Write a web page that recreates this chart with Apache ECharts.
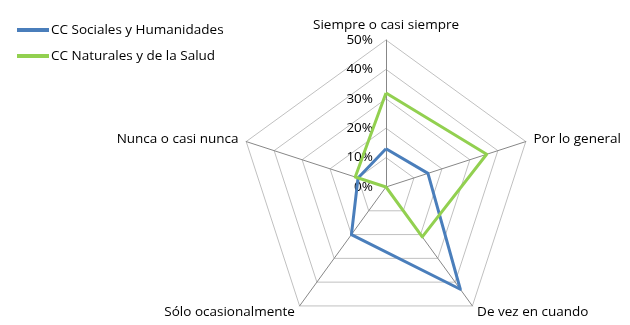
<!DOCTYPE html>
<html>
<head>
<meta charset="utf-8">
<script src="https://cdn.jsdelivr.net/npm/echarts@6/dist/echarts.min.js"></script>
<style>
  html, body { margin: 0; padding: 0; background: #fff; }
  #chart { width: 630px; height: 325px; }
</style>
</head>
<body>
<div id="chart"></div>
<script>
// categorias (ejes del radar), en el sentido de las agujas del reloj desde arriba
var categories = ['Siempre o casi siempre', 'Por lo general', 'De vez en cuando', 'Sólo ocasionalmente', 'Nunca o casi nunca'];
var seriesNames = ['CC Sociales y Humanidades', 'CC Naturales y de la Salud'];
// valores en %
var sociales = [13, 15, 43, 20, 10];
var naturales = [32, 36, 21, 0, 11];
var axisMax = 50;

// el radar de echarts gira en sentido antihorario: invertimos el orden
var order = [0, 4, 3, 2, 1];
function reorder(arr) { return order.map(function (i) { return arr[i]; }); }

var FONT = 'Open Sans';
var chart = echarts.init(document.getElementById('chart'), null, { renderer: 'canvas' });

var indicator = order.map(function (i, k) {
  return { name: categories[i], min: 0, max: axisMax, axisLabel: { show: k === 0 } };
});

var option = {
  animation: false,
  textStyle: { fontFamily: FONT },
  legend: {
    orient: 'vertical',
    left: 12,
    top: 18,
    itemGap: 12,
    itemWidth: 32,
    itemHeight: 4,
    icon: 'rect',
    textStyle: { fontSize: 13.5, color: '#000', fontFamily: FONT, padding: [0, 0, 0, -3] },
    data: seriesNames
  },
  radar: {
    center: [386, 187],
    radius: 147,
    startAngle: 90,
    splitNumber: 5,
    shape: 'polygon',
    nameGap: 8,
    axisName: { color: '#000', fontSize: 13.5, fontFamily: FONT },
    axisLine: { lineStyle: { color: '#878787', width: 1 } },
    splitLine: { lineStyle: { color: '#c0c0c0', width: 1 } },
    splitArea: { show: false },
    axisTick: { show: false },
    axisLabel: {
      color: '#000',
      fontSize: 13.5,
      fontFamily: FONT,
      align: 'right',
      margin: 13,
      formatter: function (v) { return v + '%'; }
    },
    indicator: indicator
  },
  series: [{
    type: 'radar',
    symbol: 'none',
    data: [
      { name: seriesNames[0], value: reorder(sociales), lineStyle: { color: '#4a7ebb', width: 3 }, itemStyle: { color: '#4a7ebb' } },
      { name: seriesNames[1], value: reorder(naturales), lineStyle: { color: '#92d050', width: 3 }, itemStyle: { color: '#92d050' } }
    ]
  }]
};
chart.setOption(option);
</script>
</body>
</html>
